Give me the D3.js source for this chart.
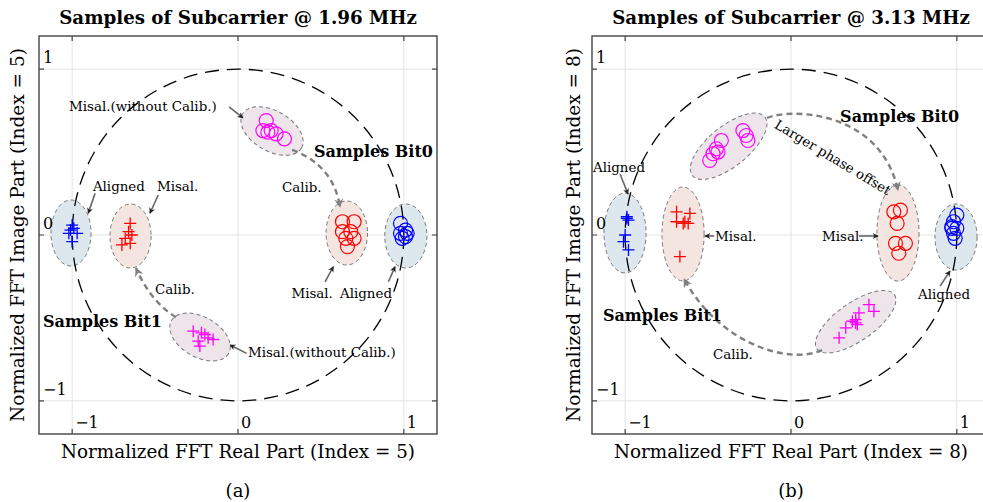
<!DOCTYPE html>
<html>
<head>
<meta charset="utf-8">
<script src="https://cdn.jsdelivr.net/npm/d3@7"></script>
<style>
  body { margin: 0; background: #fff; }
  text { font-family: "DejaVu Serif", "Liberation Serif", serif; fill: #000; }
</style>
</head>
<body>
<div id="chart"></div>
<script>

// ---- values ----
var ticks = [-1, 0, 1];
var tickLabels = ["\u22121", "0", "1"];
var titles = ["Samples of Subcarrier @ 1.96 MHz", "Samples of Subcarrier @ 3.13 MHz"];
var xLabels = ["Normalized FFT Real Part (Index = 5)", "Normalized FFT Real Part (Index = 8)"];
var yLabels = ["Normalized FFT Image Part (Index = 5)", "Normalized FFT Image Part (Index = 8)"];
var captions = ["(a)", "(b)"];

// panel (a)
var a_bit1Aligned = [[-1.00,0.06],[-0.99,0.04],[-1.02,0.01],[-0.97,0.01],[-1.00,-0.04],[-1.01,0.03]];
var a_bit1Misal   = [[-0.65,0.07],[-0.66,0.02],[-0.64,0.00],[-0.68,-0.02],[-0.65,-0.05],[-0.70,-0.06]];
var a_bit1Raw     = [[-0.27,-0.58],[-0.22,-0.59],[-0.20,-0.60],[-0.18,-0.62],[-0.24,-0.64],[-0.15,-0.63],[-0.23,-0.67]];
var a_bit0Raw     = [[0.17,0.69],[0.15,0.63],[0.20,0.63],[0.23,0.61],[0.28,0.58],[0.18,0.62]];
var a_bit0Misal   = [[0.63,0.08],[0.70,0.08],[0.63,0.02],[0.68,0.02],[0.65,-0.02],[0.70,-0.02],[0.66,-0.07]];
var a_bit0Aligned = [[0.98,0.07],[1.01,0.03],[0.98,0.01],[1.01,-0.01],[0.99,-0.02],[1.02,0.01]];

// panel (b)
var b_bit1Aligned = [[-0.99,0.11],[-0.98,0.09],[-0.99,0.10],[-1.00,0.00],[-1.01,-0.04],[-0.98,-0.09]];
var b_bit1Misal   = [[-0.69,0.14],[-0.61,0.13],[-0.69,0.08],[-0.65,0.07],[-0.62,0.07],[-0.64,0.08],[-0.67,-0.13]];
var b_bit1Raw     = [[0.29,-0.62],[0.33,-0.56],[0.37,-0.52],[0.39,-0.53],[0.40,-0.54],[0.41,-0.47],[0.47,-0.42],[0.50,-0.46],[0.39,-0.51]];
var b_bit0Raw     = [[-0.42,0.57],[-0.45,0.52],[-0.47,0.49],[-0.49,0.45],[-0.44,0.50],[-0.29,0.63],[-0.27,0.60],[-0.26,0.57]];
var b_bit0Misal   = [[0.62,0.14],[0.66,0.15],[0.64,0.07],[0.63,-0.05],[0.69,-0.05],[0.65,-0.11]];
var b_bit0Aligned = [[1.00,0.12],[0.98,0.08],[0.97,0.04],[1.00,0.04],[0.98,0.01],[0.99,-0.02],[0.97,0.05]];

// ---- layout ----
var W = 983, H = 502;
var box = 398;
var panels = [
  { left: 39,  top: 36, yLabelX: 18,
    series: [
      {pts: a_bit1Aligned, shape: "plus",   color: "#0000ff"},
      {pts: a_bit1Misal,   shape: "plus",   color: "#ff0000"},
      {pts: a_bit1Raw,     shape: "plus",   color: "#ff00ff"},
      {pts: a_bit0Raw,     shape: "circle", color: "#ff00ff"},
      {pts: a_bit0Misal,   shape: "circle", color: "#ff0000"},
      {pts: a_bit0Aligned, shape: "circle", color: "#0000ff"}
    ],
    // cx, cy, rx, ry (data units), angle (deg), fill
    ellipses: [
      [-1.007, 0.012, 0.121, 0.199, 0, "#dde8ee"],
      [-0.648, -0.006, 0.124, 0.193, 0, "#f4e5e0"],
      [0.205, 0.627, 0.205, 0.121, 30, "#ede5ea"],
      [0.656, 0.012, 0.125, 0.193, 0, "#f4e5e0"],
      [1.012, -0.006, 0.127, 0.193, 0, "#dde8ee"],
      [-0.229, -0.615, 0.199, 0.121, 30, "#ede5ea"]
    ],
    notes: [
      {t: "Misal.(without Calib.)", x: -1.019, y: 0.748},
      {t: "Samples Bit0", x: 0.458, y: 0.470, bold: true},
      {t: "Calib.", x: 0.265, y: 0.259},
      {t: "Aligned", x: -0.875, y: 0.265},
      {t: "Misal.", x: -0.489, y: 0.265},
      {t: "Misal.", x: 0.322, y: -0.380},
      {t: "Aligned", x: 0.615, y: -0.380},
      {t: "Calib.", x: -0.500, y: -0.356},
      {t: "Samples Bit1", x: -1.176, y: -0.555, bold: true},
      {t: "Misal.(without Calib.)", x: 0.060, y: -0.736}
    ],
    arrows: [
      [[-0.054,0.772],[0.030,0.706]],
      [[-0.862,0.251],[-0.903,0.131]],
      [[-0.481,0.241],[-0.531,0.131]],
      [[0.525,-0.282],[0.575,-0.191]],
      [[0.907,-0.282],[0.947,-0.191]],
      [[0.052,-0.714],[-0.048,-0.663]]
    ],
    curves: [
      [[0.326,0.513],[0.500,0.450],[0.590,0.330],[0.615,0.169]],
      [[-0.374,-0.495],[-0.470,-0.440],[-0.560,-0.330],[-0.615,-0.199]]
    ]
  },
  { left: 592, top: 36, yLabelX: 574,
    series: [
      {pts: b_bit1Aligned, shape: "plus",   color: "#0000ff"},
      {pts: b_bit1Misal,   shape: "plus",   color: "#ff0000"},
      {pts: b_bit1Raw,     shape: "plus",   color: "#ff00ff"},
      {pts: b_bit0Raw,     shape: "circle", color: "#ff00ff"},
      {pts: b_bit0Misal,   shape: "circle", color: "#ff0000"},
      {pts: b_bit0Aligned, shape: "circle", color: "#0000ff"}
    ],
    ellipses: [
      [-1.001, 0.012, 0.127, 0.241, 0, "#dde8ee"],
      [-0.651, 0.006, 0.127, 0.283, 0, "#f4e5e0"],
      [-0.376, 0.535, 0.281, 0.121, -39, "#ede5ea"],
      [0.645, 0.012, 0.127, 0.290, 0, "#f4e5e0"],
      [0.995, -0.012, 0.127, 0.199, 0, "#dde8ee"],
      [0.390, -0.523, 0.285, 0.115, -35, "#ede5ea"]
    ],
    notes: [
      {t: "Samples Bit0", x: 0.296, y: 0.682, bold: true},
      {t: "Larger phase offset", x: -0.105, y: 0.650, rot: 31},
      {t: "Aligned", x: -1.194, y: 0.380},
      {t: "Misal.", x: -0.458, y: -0.036},
      {t: "Misal.", x: 0.187, y: -0.036},
      {t: "Aligned", x: 0.766, y: -0.386},
      {t: "Samples Bit1", x: -1.134, y: -0.519, bold: true},
      {t: "Calib.", x: -0.470, y: -0.748}
    ],
    arrows: [
      [[-1.031,0.368],[-0.983,0.247]],
      [[-0.464,-0.006],[-0.519,-0.006]],
      [[0.410,-0.006],[0.525,-0.006]],
      [[0.899,-0.308],[0.959,-0.217]]
    ],
    curves: [
      [[-0.145,0.706],[-0.006,0.766],[0.537,0.754],[0.645,0.271]],
      [[0.187,-0.694],[-0.006,-0.784],[-0.428,-0.663],[-0.645,-0.265]]
    ]
  }
];

// scale a text's font size so it spans the width seen in the picture
function fit(sel, target) {
  var fs = +sel.attr("font-size");
  var len = sel.node().getComputedTextLength();
  sel.attr("font-size", (fs * target / len).toFixed(2));
}

var svg = d3.select("#chart").append("svg")
  .attr("width", W).attr("height", H);

var defs = svg.append("defs");
defs.append("marker").attr("id", "headBlack")
  .attr("viewBox", "0 0 10 10").attr("refX", 9).attr("refY", 5)
  .attr("markerWidth", 8).attr("markerHeight", 6).attr("markerUnits", "userSpaceOnUse")
  .attr("orient", "auto")
  .append("path").attr("d", "M0,0 L10,5 L0,10 L3,5 Z").attr("fill", "#222");
defs.append("marker").attr("id", "headGray")
  .attr("viewBox", "0 0 10 10").attr("refX", 9).attr("refY", 5)
  .attr("markerWidth", 11).attr("markerHeight", 9).attr("markerUnits", "userSpaceOnUse")
  .attr("orient", "auto")
  .append("path").attr("d", "M0,0 L10,5 L0,10 L3,5 Z").attr("fill", "#808080");

// annotation font sizes from one reference string each
var probe = svg.append("text").attr("font-size", 14).text("Aligned");
fit(probe, 52);
var noteSize = +probe.attr("font-size");
probe.attr("font-size", 16).attr("font-weight", "bold").text("Samples Bit0");
fit(probe, 119);
var boldSize = +probe.attr("font-size");
probe.remove();

panels.forEach(function(p, i) {
  var x = d3.scaleLinear().domain([-1.2, 1.2]).range([0, box]);
  var y = d3.scaleLinear().domain([-1.2, 1.2]).range([box, 0]);

  var g = svg.append("g").attr("transform", "translate(" + p.left + "," + p.top + ")");

  // grid
  g.selectAll(".gx").data(ticks).enter().append("line")
    .attr("x1", function(d) { return x(d); }).attr("x2", function(d) { return x(d); })
    .attr("y1", 0).attr("y2", box)
    .attr("stroke", "#e3e3e3").attr("stroke-width", 1);
  g.selectAll(".gy").data(ticks).enter().append("line")
    .attr("y1", function(d) { return y(d); }).attr("y2", function(d) { return y(d); })
    .attr("x1", 0).attr("x2", box)
    .attr("stroke", "#e3e3e3").attr("stroke-width", 1);

  // shaded ellipses
  g.selectAll(".ell").data(p.ellipses).enter().append("ellipse")
    .attr("transform", function(d) { return "translate(" + x(d[0]) + "," + y(d[1]) + ") rotate(" + d[4] + ")"; })
    .attr("rx", function(d) { return x(d[2]) - x(0); })
    .attr("ry", function(d) { return x(d[3]) - x(0); })
    .attr("fill", function(d) { return d[5]; })
    .attr("stroke", "#777").attr("stroke-width", 1)
    .attr("stroke-dasharray", "4,3");

  // unit circle
  g.append("circle")
    .attr("cx", x(0)).attr("cy", y(0)).attr("r", x(1) - x(0))
    .attr("fill", "none").attr("stroke", "#000").attr("stroke-width", 1.3)
    .attr("stroke-dasharray", "14,8");

  // markers
  p.series.forEach(function(s) {
    if (s.shape === "circle") {
      g.selectAll(null).data(s.pts).enter().append("circle")
        .attr("cx", function(d) { return x(d[0]); })
        .attr("cy", function(d) { return y(d[1]); })
        .attr("r", 7)
        .attr("fill", "none").attr("stroke", s.color).attr("stroke-width", 1.2);
    } else {
      g.selectAll(null).data(s.pts).enter().append("path")
        .attr("d", function(d) {
          var cx = x(d[0]), cy = y(d[1]);
          return "M" + (cx - 6) + "," + cy + "H" + (cx + 6) + "M" + cx + "," + (cy - 6) + "V" + (cy + 6);
        })
        .attr("fill", "none").attr("stroke", s.color).attr("stroke-width", 1.3);
    }
  });

  // small annotation arrows
  g.selectAll(".arr").data(p.arrows).enter().append("line")
    .attr("x1", function(d) { return x(d[0][0]); }).attr("y1", function(d) { return y(d[0][1]); })
    .attr("x2", function(d) { return x(d[1][0]); }).attr("y2", function(d) { return y(d[1][1]); })
    .attr("stroke", "#666").attr("stroke-width", 1.6)
    .attr("marker-end", "url(#headBlack)");

  // calibration curves
  g.selectAll(".crv").data(p.curves).enter().append("path")
    .attr("d", function(d) {
      var pp = d3.path();
      pp.moveTo(x(d[0][0]), y(d[0][1]));
      pp.bezierCurveTo(x(d[1][0]), y(d[1][1]), x(d[2][0]), y(d[2][1]), x(d[3][0]), y(d[3][1]));
      return pp.toString();
    })
    .attr("fill", "none").attr("stroke", "#808080").attr("stroke-width", 2.4)
    .attr("stroke-dasharray", "6,4")
    .attr("marker-end", "url(#headGray)");

  // annotation texts
  g.selectAll(".note").data(p.notes).enter().append("text")
    .attr("transform", function(d) {
      return "translate(" + x(d.x) + "," + y(d.y) + ")" + (d.rot ? " rotate(" + d.rot + ")" : "");
    })
    .attr("font-size", function(d) { return d.bold ? boldSize : noteSize; })
    .attr("font-weight", function(d) { return d.bold ? "bold" : "normal"; })
    .text(function(d) { return d.t; });

  // box
  g.append("rect").attr("width", box).attr("height", box)
    .attr("fill", "none").attr("stroke", "#444").attr("stroke-width", 1.4);

  // inward ticks
  ticks.forEach(function(t) {
    g.append("path")
      .attr("d", "M" + x(t) + ",0v5M" + x(t) + "," + box + "v-5M0," + y(t) + "h5M" + box + "," + y(t) + "h-5")
      .attr("stroke", "#444").attr("stroke-width", 1.2);
  });

  // tick labels (inside the box)
  g.selectAll(".xl").data(ticks).enter().append("text")
    .attr("x", function(d) { return x(d) + 3; }).attr("y", box - 6)
    .attr("font-size", 16)
    .text(function(d, k) { return tickLabels[k]; });
  g.selectAll(".yl").data(ticks).enter().append("text")
    .attr("x", 4).attr("y", function(d) { return y(d) - 6; })
    .attr("font-size", 16)
    .text(function(d, k) { return tickLabels[k]; });

  var cx = p.left + x(0);
  var tt = svg.append("text").attr("x", cx).attr("y", 24)
    .attr("text-anchor", "middle").attr("font-size", 18).attr("font-weight", "bold")
    .text(titles[i]);
  fit(tt, 358);
  var xl = svg.append("text").attr("x", cx).attr("y", 458)
    .attr("text-anchor", "middle").attr("font-size", 17)
    .text(xLabels[i]);
  fit(xl, 354);
  svg.append("text").attr("x", cx).attr("y", 497)
    .attr("text-anchor", "middle").attr("font-size", 18)
    .text(captions[i]);
  var yl = svg.append("text")
    .attr("transform", "translate(" + p.yLabelX + "," + (p.top + y(0)) + ") rotate(-90)")
    .attr("text-anchor", "middle").attr("dy", "0.35em").attr("font-size", 17)
    .text(yLabels[i]);
  fit(yl, 374);
});

</script>
</body>
</html>
